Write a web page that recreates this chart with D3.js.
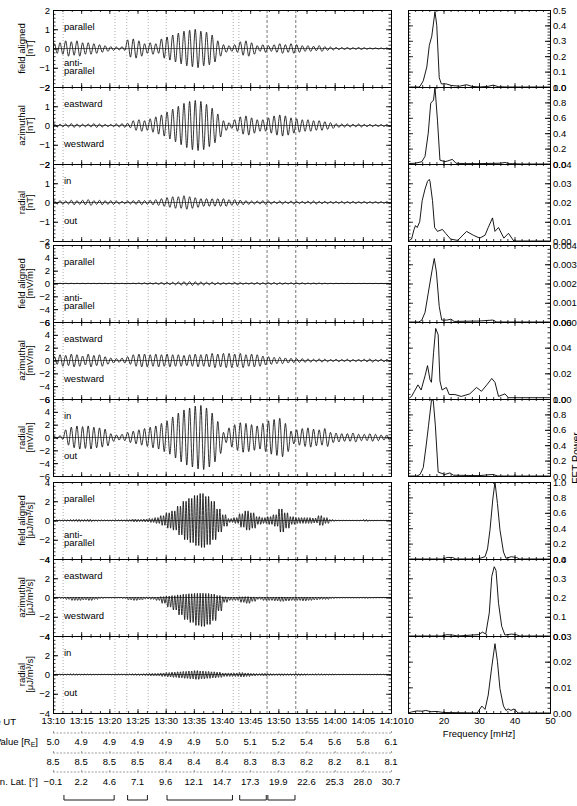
<!DOCTYPE html>
<html>
<head>
<meta charset="utf-8">
<script src="https://cdn.jsdelivr.net/npm/d3@7"></script>
<style>
  body { margin: 0; background: #fff; }
  svg { display: block; font-family: "Liberation Sans", Arial, sans-serif; font-size: 9.5px; }
</style>
</head>
<body>
<div class="canvas"></div>
<script>
/////////////////////////////////////////////////////
//////////////// chart values ///////////////////////
/////////////////////////////////////////////////////

// bottom table rows, one value per 5 minutes from 13:10 to 14:10
const utLabels = ['13:10', '13:15', '13:20', '13:25', '13:30', '13:35', '13:40', '13:45', '13:50', '13:55', '14:00', '14:05', '14:10'];
const lValues = ['5.0', '4.9', '4.9', '4.9', '4.9', '4.9', '5.0', '5.1', '5.2', '5.4', '5.6', '5.8', '6.1'];
const mltValues = ['8.5', '8.5', '8.5', '8.5', '8.4', '8.4', '8.4', '8.3', '8.3', '8.2', '8.2', '8.1', '8.1'];
const magLat = ['-0.1', '2.2', '4.6', '7.1', '9.6', '12.1', '14.7', '17.3', '19.9', '22.6', '25.3', '28.0', '30.7'];

// marked intervals (minutes after 13:10)
const intervalStarts = [1.8, 13.1, 20.1, 33.0, 38.0];
const intervalEnds = [11.0, 16.9, 32.0, 38.0, 43.1];
const dashedMarks = [38.0, 43.1];

// one entry per group of three panels (magnetic, electric, Poynting)
const componentNames = ['field aligned', 'azimuthal', 'radial'];
const unitNames = ['[nT]', '[mV/m]', '[μJ/m³/s]'];
const upperWords = [['parallel'], ['eastward'], ['in']];
const lowerWords = [['anti-', 'parallel'], ['westward'], ['out']];
const yLimits = [2, 6, 4];
const yMajorStep = [1, 2, 2];
const yMinorStep = [0.2, 0.5, 0.4];
const cyclesPerMinute = [1, 1, 2];

// share of the amplitude reached above zero, per panel
const upperShare = [1, 1, 1, 1, 1, 1, 1, 0.15, 0.8];

// wave amplitude read per minute (13:10 .. 14:09), per panel
const ampB1 = [0.25, 0.3, 0.4, 0.35, 0.4, 0.3, 0.3, 0.25, 0.2, 0.15, 0.1, 0.08, 0.1, 0.45, 0.5, 0.4, 0.25, 0.3, 0.25, 0.5,
    0.6, 0.7, 0.8, 0.9, 0.95, 1.0, 0.9, 0.85, 0.7, 0.4, 0.2, 0.15, 0.2, 0.35, 0.4, 0.3, 0.15, 0.2, 0.15, 0.2,
    0.25, 0.2, 0.25, 0.2, 0.15, 0.15, 0.12, 0.15, 0.1, 0.08, 0.06, 0.05, 0.05, 0.04, 0.05, 0.04, 0.03, 0.03, 0.03, 0.03];
const ampB2 = [0.08, 0.07, 0.08, 0.1, 0.08, 0.07, 0.08, 0.1, 0.08, 0.06, 0.06, 0.08, 0.1, 0.12, 0.25, 0.3, 0.25, 0.35, 0.45, 0.55,
    0.7, 0.85, 1.0, 1.15, 1.25, 1.3, 1.25, 1.1, 0.9, 0.6, 0.25, 0.15, 0.3, 0.45, 0.5, 0.4, 0.3, 0.3, 0.4, 0.5,
    0.55, 0.5, 0.4, 0.35, 0.3, 0.3, 0.25, 0.25, 0.2, 0.15, 0.1, 0.08, 0.08, 0.07, 0.08, 0.06, 0.06, 0.05, 0.05, 0.05];
const ampB3 = [0.08, 0.1, 0.08, 0.12, 0.1, 0.12, 0.15, 0.1, 0.12, 0.1, 0.1, 0.08, 0.06, 0.08, 0.1, 0.12, 0.1, 0.12, 0.15, 0.2,
    0.25, 0.3, 0.3, 0.35, 0.3, 0.25, 0.2, 0.2, 0.2, 0.2, 0.2, 0.15, 0.15, 0.12, 0.1, 0.08, 0.08, 0.1, 0.08, 0.06,
    0.08, 0.06, 0.08, 0.06, 0.06, 0.07, 0.08, 0.06, 0.06, 0.05, 0.05, 0.06, 0.05, 0.05, 0.04, 0.05, 0.04, 0.04, 0.04, 0.04];
const ampE1 = [0.03, 0.03, 0.03, 0.03, 0.03, 0.03, 0.03, 0.03, 0.03, 0.03, 0.03, 0.03, 0.03, 0.03, 0.05, 0.08, 0.1, 0.1, 0.12, 0.15,
    0.18, 0.2, 0.25, 0.3, 0.3, 0.28, 0.25, 0.2, 0.2, 0.15, 0.12, 0.1, 0.15, 0.12, 0.1, 0.12, 0.15, 0.12, 0.12, 0.15,
    0.12, 0.1, 0.12, 0.1, 0.1, 0.08, 0.08, 0.08, 0.05, 0.03, 0.02, 0.02, 0.02, 0.02, 0.02, 0.02, 0.02, 0.02, 0.02, 0.02];
const ampE2 = [0.6, 0.9, 0.8, 1.0, 0.9, 0.7, 1.0, 0.8, 0.9, 0.6, 0.4, 0.3, 0.4, 0.6, 0.9, 1.0, 1.0, 0.9, 1.0, 0.9,
    1.0, 0.9, 0.9, 0.8, 0.9, 1.0, 0.9, 1.0, 1.1, 1.0, 1.1, 1.1, 1.0, 1.1, 0.9, 1.0, 0.9, 0.7, 0.6, 0.5,
    0.5, 0.4, 0.35, 0.3, 0.3, 0.25, 0.2, 0.25, 0.2, 0.15, 0.2, 0.15, 0.2, 0.15, 0.15, 0.2, 0.25, 0.15, 0.2, 0.15];
const ampE3 = [0.2, 0.3, 1.2, 1.6, 1.8, 1.7, 1.8, 1.6, 1.5, 1.3, 0.6, 0.4, 0.5, 0.8, 1.0, 1.2, 1.4, 1.6, 1.8, 2.2,
    2.6, 3.2, 3.8, 4.3, 4.6, 4.9, 5.0, 4.6, 3.8, 2.5, 0.8, 1.5, 2.0, 2.3, 2.2, 2.0, 1.8, 2.2, 2.6, 2.8,
    3.0, 2.2, 1.0, 1.2, 1.4, 1.5, 1.3, 1.2, 1.4, 0.8, 0.7, 0.6, 0.6, 0.7, 0.5, 0.5, 0.6, 0.5, 0.4, 0.4];
const ampS1 = [0.05, 0.05, 0.08, 0.1, 0.12, 0.1, 0.12, 0.08, 0.06, 0.05, 0.05, 0.08, 0.08, 0.1, 0.15, 0.12, 0.15, 0.2, 0.3, 0.5,
    0.8, 1.0, 1.5, 2.0, 2.3, 2.6, 2.8, 2.5, 2.0, 1.2, 0.6, 0.2, 0.3, 0.7, 1.0, 0.8, 0.4, 0.3, 0.4, 0.6,
    1.2, 0.8, 0.4, 0.3, 0.3, 0.3, 0.25, 0.5, 0.3, 0.1, 0.03, 0.03, 0.02, 0.02, 0.03, 0.1, 0.03, 0.02, 0.02, 0.02];
const ampS2 = [0.05, 0.1, 0.2, 0.3, 0.3, 0.25, 0.3, 0.2, 0.1, 0.05, 0.05, 0.05, 0.1, 0.25, 0.3, 0.25, 0.15, 0.2, 0.3, 0.6,
    1.0, 1.3, 1.8, 2.3, 2.6, 2.9, 3.0, 2.8, 2.4, 1.4, 0.5, 0.3, 0.3, 0.5, 0.6, 0.4, 0.2, 0.3, 0.3, 0.35,
    0.4, 0.35, 0.3, 0.3, 0.35, 0.3, 0.25, 0.2, 0.2, 0.1, 0.05, 0.05, 0.05, 0.05, 0.05, 0.08, 0.05, 0.03, 0.03, 0.03];
const ampS3 = [0.03, 0.05, 0.05, 0.08, 0.06, 0.05, 0.05, 0.04, 0.03, 0.03, 0.04, 0.05, 0.05, 0.08, 0.1, 0.1, 0.12, 0.15, 0.15, 0.2,
    0.25, 0.3, 0.35, 0.4, 0.45, 0.5, 0.45, 0.4, 0.35, 0.3, 0.2, 0.2, 0.2, 0.25, 0.2, 0.15, 0.12, 0.15, 0.12, 0.1,
    0.12, 0.1, 0.1, 0.12, 0.1, 0.08, 0.08, 0.08, 0.06, 0.05, 0.03, 0.03, 0.03, 0.03, 0.03, 0.03, 0.03, 0.03, 0.03, 0.03];

// FFT power spectra, [frequency mHz, power]
const fftB1 = [[10, 0], [13, 0], [13.4, 0.005], [14.3, 0.04], [15.3, 0.13], [16, 0.27], [16.7, 0.33], [17.6, 0.49], [18.1, 0.40], [18.8, 0.06],
    [19.4, 0.02], [20.8, 0.02], [22.2, 0.01], [24.5, 0.005], [26.5, 0.015], [28, 0.004], [30.2, 0], [32.5, 0.004], [34, 0.012], [35.5, 0.002], [38, 0], [50, 0]];
const fftB2 = [[10, 0.005], [12, 0.01], [13.9, 0.03], [14.8, 0.1], [15.7, 0.4], [16.4, 0.79], [17.2, 0.83], [17.6, 1.0], [18.3, 0.57], [19, 0.05],
    [20.4, 0.03], [21.2, 0.04], [22.5, 0.06], [23.5, 0.01], [26, 0.005], [30, 0.005], [36, 0.01], [37.3, 0.02], [38.5, 0.005], [42, 0], [50, 0]];
const fftB3 = [[10, 0], [11, 0.001], [11.7, 0.006], [12.1, 0.008], [12.6, 0.007], [13.3, 0.010], [14, 0.021], [14.8, 0.027], [15.5, 0.031], [16, 0.032],
    [16.2, 0.031], [16.9, 0.021], [17.5, 0.007], [18.3, 0.005], [19.7, 0.006], [20.6, 0.004], [22, 0.001], [24, 0.0003], [26.5, 0.005], [28.4, 0.003],
    [30.2, 0.0015], [31.7, 0.003], [32.6, 0.007], [33.8, 0.012], [34.5, 0.005], [35.5, 0.007], [37, 0.0015], [38.3, 0.004], [39.8, 0], [50, 0]];
const fftE1 = [[10, 0], [13, 0], [13.9, 0.0001], [14.8, 0.0005], [15.7, 0.0015], [16.7, 0.0026], [17.4, 0.0033], [18, 0.0026], [18.8, 0.0008], [19.5, 0.0001],
    [21, 0.0001], [22.1, 0.00015], [23, 0.00003], [30, 0.00005], [33.9, 0.0001], [35, 0], [50, 0]];
const fftE2 = [[10, 0], [11, 0.002], [11.8, 0.006], [12.8, 0.011], [13.7, 0.007], [14.8, 0.018], [15.5, 0.026], [16.2, 0.015], [16.6, 0.013], [17.2, 0.036],
    [17.8, 0.055], [18.5, 0.05], [19, 0.014], [19.6, 0.007], [20.8, 0.009], [21.6, 0.0035], [23.2, 0.0035], [25, 0.002], [27.4, 0.004], [29.3, 0.009],
    [30.7, 0.006], [32.2, 0.011], [33.6, 0.016], [34.5, 0.013], [35.5, 0.002], [37.3, 0.004], [38.3, 0.001], [42, 0.001], [50, 0.001]];
const fftE3 = [[10, 0], [12.5, 0], [13.4, 0.02], [14.3, 0.11], [15.1, 0.39], [15.8, 0.66], [16.6, 0.98], [17.1, 0.99], [17.7, 0.66], [18.5, 0.05],
    [20.4, 0.02], [21.8, 0.04], [22.8, 0.01], [30, 0.005], [33.9, 0.02], [35.3, 0], [50, 0]];
const fftS1 = [[10, 0], [20, 0], [21, 0.02], [22.5, 0.02], [23.5, 0], [29.5, 0], [30.3, 0.01], [31.7, 0.03], [32.4, 0.13], [33.1, 0.38],
    [33.9, 0.78], [34.5, 1.0], [35.2, 0.72], [35.9, 0.38], [36.9, 0.09], [37.6, 0.01], [39.1, 0.03], [40.5, 0.02], [41.5, 0], [50, 0]];
const fftS2 = [[10, 0], [19.5, 0], [21, 0.007], [22.5, 0.005], [24, 0], [29.8, 0.007], [31, 0.02], [31.9, 0.01], [32.9, 0.12], [33.6, 0.31],
    [34.3, 0.36], [34.8, 0.34], [35.5, 0.17], [36.4, 0.05], [37.3, 0.005], [39.1, 0.01], [40.5, 0.007], [41.5, 0], [50, 0]];
const fftS3 = [[10, 0], [11, 0.0004], [12.5, 0.0008], [14, 0.0007], [15, 0.001], [16.5, 0.0005], [18, 0.0006], [20, 0.0002], [29.5, 0], [30.8, 0.0027],
    [31.7, 0.0014], [32.6, 0.007], [33.6, 0.018], [34.5, 0.027], [35.2, 0.020], [35.9, 0.0095], [36.9, 0.0027], [37.6, 0.001], [38.2, 0.0016], [39, 0.001],
    [39.9, 0.0016], [41, 0], [50, 0]];

// FFT axis top value, tick step and decimals per panel
const fftMax = [0.5, 1.0, 0.04, 0.004, 0.06, 1.0, 1.0, 0.4, 0.03];
const fftStep = [0.1, 0.2, 0.01, 0.001, 0.02, 0.2, 0.2, 0.1, 0.01];
const fftDigits = [1, 1, 2, 3, 2, 1, 1, 1, 2];
const freqTicks = [10, 20, 30, 40, 50];

const amps = [ampB1, ampB2, ampB3, ampE1, ampE2, ampE3, ampS1, ampS2, ampS3];
const ffts = [fftB1, fftB2, fftB3, fftE1, fftE2, fftE3, fftS1, fftS2, fftS3];

/////////////////////////////////////////////////////
//////////////// layout /////////////////////////////
/////////////////////////////////////////////////////
const dims = {
    width: 577,
    height: 806,
    panelH: 77,
    groupTops: [10, 245, 482],
    left: { x0: 53, x1: 391 },
    right: { x0: 408, x1: 550 }
};

const svg = d3.select('.canvas')
    .append('svg')
    .attr('width', dims.width)
    .attr('height', dims.height);

// time axis in minutes after 13:10, frequency axis in mHz
const xTime = d3.scaleLinear().domain([0, 60]).range([dims.left.x0, dims.left.x1]);
const xFreq = d3.scaleLinear().domain([10, 50]).range([dims.right.x0, dims.right.x1]);

const majorTime = d3.range(0, 61, 5);
const minorTime = d3.range(0, 60.01, 5 / 3);
const minorFreq = d3.range(10, 50.01, 2);

// build the wave as alternating extremes, one or two cycles per minute
const wavePoints = (amp, cpm, up) => {
    const pts = [[0, 0]];
    amp.forEach((a, i) => {
        for (let j = 0; j < cpm; j++) {
            pts.push([i + (j + 0.25) / cpm, up * a]);
            pts.push([i + (j + 0.75) / cpm, -a]);
        }
    });
    pts.push([60, 0]);
    return pts;
};

// strip the labels from an axis and keep its ticks inward
const bareAxis = (g) => {
    g.selectAll('text').remove();
    g.selectAll('path.domain').attr('stroke', '#000').attr('stroke-width', 0.9);
    g.selectAll('line').attr('stroke', '#000').attr('stroke-width', 0.8);
};

const defs = svg.append('defs');

/////////////////////////////////////////////////////
//////////////// panels /////////////////////////////
/////////////////////////////////////////////////////
for (let p = 0; p < 9; p++) {
    const grp = Math.floor(p / 3);
    const comp = p % 3;
    const top = dims.groupTops[grp] + comp * dims.panelH;
    const bottom = top + dims.panelH;
    const lim = yLimits[grp];

    const y = d3.scaleLinear().domain([-lim, lim]).range([bottom, top]);

    // clip for the wave trace
    defs.append('clipPath').attr('id', 'clip' + p)
        .append('rect')
        .attr('x', dims.left.x0).attr('y', top)
        .attr('width', dims.left.x1 - dims.left.x0).attr('height', dims.panelH);

    const panel = svg.append('g');

    // interval marks
    panel.selectAll('line.mark')
        .data(intervalStarts.concat(intervalEnds).filter((v, i, a) => a.indexOf(v) === i))
        .enter().append('line')
        .attr('x1', d => xTime(d)).attr('x2', d => xTime(d))
        .attr('y1', top).attr('y2', bottom)
        .attr('stroke', d => dashedMarks.includes(d) ? '#555' : '#999')
        .attr('stroke-width', 0.8)
        .attr('stroke-dasharray', d => dashedMarks.includes(d) ? '3,2' : '1,2');

    // zero line
    panel.append('line')
        .attr('x1', dims.left.x0).attr('x2', dims.left.x1)
        .attr('y1', y(0)).attr('y2', y(0))
        .attr('stroke', '#000').attr('stroke-width', 0.6);

    // wave trace
    const line = d3.line()
        .x(d => xTime(d[0]))
        .y(d => y(d[1]))
        .curve(d3.curveMonotoneX);

    panel.append('path')
        .attr('clip-path', `url(#clip${p})`)
        .attr('d', line(wavePoints(amps[p], cyclesPerMinute[grp], upperShare[p])))
        .attr('fill', 'none')
        .attr('stroke', '#000')
        .attr('stroke-width', 0.8);

    // y axes, left labelled, right bare
    const yMajor = d3.range(-lim, lim + 0.001, yMajorStep[grp]);
    const yMinor = d3.range(-lim, lim + 0.001, yMinorStep[grp]);

    const yl = panel.append('g')
        .attr('transform', `translate(${dims.left.x0},0)`)
        .call(d3.axisLeft(y).tickValues(yMajor).tickSizeInner(-5).tickSizeOuter(0).tickPadding(3).tickFormat(d3.format('d')));
    yl.selectAll('text').attr('font-size', '9.5px').attr('font-family', '"Liberation Sans", Arial, sans-serif').attr('fill', '#000');
    yl.select('path.domain').attr('stroke-width', 0.9);
    panel.append('g')
        .attr('transform', `translate(${dims.left.x0},0)`)
        .call(d3.axisLeft(y).tickValues(yMinor).tickSize(-2.5).tickFormat(''))
        .call(bareAxis);
    panel.append('g')
        .attr('transform', `translate(${dims.left.x1},0)`)
        .call(d3.axisRight(y).tickValues(yMajor).tickSize(-5).tickSizeOuter(0))
        .call(bareAxis);
    panel.append('g')
        .attr('transform', `translate(${dims.left.x1},0)`)
        .call(d3.axisRight(y).tickValues(yMinor).tickSize(-2.5).tickSizeOuter(0))
        .call(bareAxis);

    // time ticks on top and bottom borders
    [top, bottom].forEach((yy, k) => {
        const dir = k === 0 ? 1 : -1;
        panel.append('g')
            .attr('transform', `translate(0,${yy})`)
            .call(d3.axisBottom(xTime).tickValues(majorTime).tickSize(dir * 4).tickSizeOuter(0))
            .call(bareAxis);
        panel.append('g')
            .attr('transform', `translate(0,${yy})`)
            .call(d3.axisBottom(xTime).tickValues(minorTime).tickSize(dir * 2).tickSizeOuter(0))
            .call(bareAxis);
    });

    // component label on the left
    const cy = (top + bottom) / 2;
    panel.append('text')
        .attr('transform', `translate(25,${cy}) rotate(-90)`)
        .attr('text-anchor', 'middle')
        .text(componentNames[comp]);
    panel.append('text')
        .attr('transform', `translate(32.5,${cy}) rotate(-90)`)
        .attr('text-anchor', 'middle')
        .text(unitNames[grp]);

    // direction words inside the panel
    upperWords[comp].forEach((w, i) => {
        panel.append('text')
            .attr('x', 64).attr('y', top + 17 + i * 8)
            .attr('dy', '0.35em')
            .text(w);
    });
    const lw = lowerWords[comp];
    lw.forEach((w, i) => {
        panel.append('text')
            .attr('x', 64).attr('y', top + 57 - (lw.length - 1) * 4 + i * 8)
            .attr('dy', '0.35em')
            .text(w);
    });

    //////////////// FFT panel ////////////////
    const yF = d3.scaleLinear().domain([0, fftMax[p]]).range([bottom, top]);
    const fTicks = d3.range(0, fftMax[p] + fftStep[p] / 2, fftStep[p]);
    const fMinor = d3.range(0, fftMax[p] + fftStep[p] / 10, fftStep[p] / 5);

    const fr = panel.append('g')
        .attr('transform', `translate(${dims.right.x1},0)`)
        .call(d3.axisRight(yF).tickValues(fTicks).tickSizeInner(-5).tickSizeOuter(0).tickPadding(3)
            .tickFormat(d3.format('.' + fftDigits[p] + 'f')));
    fr.selectAll('text').attr('font-size', '9.5px').attr('font-family', '"Liberation Sans", Arial, sans-serif').attr('fill', '#000');
    fr.select('path.domain').attr('stroke-width', 0.9);
    panel.append('g')
        .attr('transform', `translate(${dims.right.x1},0)`)
        .call(d3.axisRight(yF).tickValues(fMinor).tickSize(-2.5).tickSizeOuter(0))
        .call(bareAxis);
    panel.append('g')
        .attr('transform', `translate(${dims.right.x0},0)`)
        .call(d3.axisLeft(yF).tickValues(fTicks).tickSize(-5).tickSizeOuter(0))
        .call(bareAxis);
    panel.append('g')
        .attr('transform', `translate(${dims.right.x0},0)`)
        .call(d3.axisLeft(yF).tickValues(fMinor).tickSize(-2.5).tickSizeOuter(0))
        .call(bareAxis);

    [top, bottom].forEach((yy, k) => {
        const dir = k === 0 ? 1 : -1;
        panel.append('g')
            .attr('transform', `translate(0,${yy})`)
            .call(d3.axisBottom(xFreq).tickValues(freqTicks).tickSize(dir * 4).tickSizeOuter(0))
            .call(bareAxis);
        panel.append('g')
            .attr('transform', `translate(0,${yy})`)
            .call(d3.axisBottom(xFreq).tickValues(minorFreq).tickSize(dir * 2).tickSizeOuter(0))
            .call(bareAxis);
    });

    const fLine = d3.line()
        .x(d => xFreq(d[0]))
        .y(d => yF(d[1]));

    panel.append('path')
        .attr('d', fLine(ffts[p]))
        .attr('fill', 'none')
        .attr('stroke', '#000')
        .attr('stroke-width', 0.9);
}

/////////////////////////////////////////////////////
//////////////// bottom labels //////////////////////
/////////////////////////////////////////////////////
const lastBottom = dims.groupTops[2] + 3 * dims.panelH;

// UT row
const ut = svg.append('g')
    .attr('transform', `translate(0,${lastBottom})`)
    .call(d3.axisBottom(xTime).tickValues(majorTime).tickSize(0).tickPadding(4)
        .tickFormat((d, i) => utLabels[i]));
ut.select('path.domain').remove();
ut.selectAll('text').attr('font-size', '9.5px').attr('font-family', '"Liberation Sans", Arial, sans-serif').attr('fill', '#000');

// frequency axis
const fa = svg.append('g')
    .attr('transform', `translate(0,${lastBottom})`)
    .call(d3.axisBottom(xFreq).tickValues(freqTicks).tickSize(0).tickPadding(4).tickFormat(d3.format('d')));
fa.select('path.domain').remove();
fa.selectAll('text').attr('font-size', '9.5px').attr('font-family', '"Liberation Sans", Arial, sans-serif').attr('fill', '#000');

svg.append('text')
    .attr('x', xFreq(30)).attr('y', 737)
    .attr('text-anchor', 'middle')
    .text('Frequency [mHz]');

svg.append('text')
    .attr('transform', 'translate(580,458) rotate(-90)')
    .attr('text-anchor', 'middle')
    .attr('font-size', '10.5px')
    .text('FFT Power');

// row labels, partly outside the picture on the left
const rowLabel = (txt, yy) => svg.append('text')
    .attr('x', 38).attr('y', yy).attr('dy', '0.35em')
    .attr('text-anchor', 'end');
svg.append('text').attr('x', 16).attr('y', 722).attr('dy', '0.35em').attr('text-anchor', 'end').text('Time UT');
const lv = rowLabel('', 742);
lv.append('tspan').text('L-Value [R');
lv.append('tspan').attr('font-size', '7px').attr('dy', '2').text('E');
lv.append('tspan').attr('dy', '-2').text(']');
rowLabel('', 782).text('Magn. Lat. [°]');

// value rows
[[lValues, 742], [mltValues, 762], [magLat, 782]].forEach(([vals, yy]) => {
    svg.append('g').selectAll('text')
        .data(vals)
        .enter().append('text')
        .attr('x', (d, i) => xTime(majorTime[i]))
        .attr('y', yy)
        .attr('dy', '0.35em')
        .attr('text-anchor', 'middle')
        .text(d => d.replace('-', '−'));
});

// thin separators between rows
[733, 753, 772].forEach(yy => {
    svg.append('line')
        .attr('x1', dims.left.x0).attr('x2', dims.left.x1)
        .attr('y1', yy).attr('y2', yy)
        .attr('stroke', '#777').attr('stroke-width', 0.7)
        .attr('stroke-dasharray', '2,1.5');
    svg.append('g')
        .attr('transform', `translate(0,${yy})`)
        .call(d3.axisBottom(xTime).tickValues(majorTime).tickSize(-2).tickSizeOuter(0))
        .call(g => {
            g.selectAll('text').remove();
            g.select('path.domain').remove();
            g.selectAll('line').attr('stroke', '#777').attr('stroke-width', 0.7);
        });
});

// interval brackets
const brackets = svg.append('g')
    .selectAll('path')
    .data(intervalStarts.map((s, i) => [s, intervalEnds[i]]))
    .enter().append('path')
    .attr('d', d => {
        const a = xTime(d[0]) + 0.8, b = xTime(d[1]) - 0.8;
        return `M${a},795 V800 H${b} V795`;
    })
    .attr('fill', 'none')
    .attr('stroke', '#000')
    .attr('stroke-width', 0.9);
</script>
</body>
</html>
